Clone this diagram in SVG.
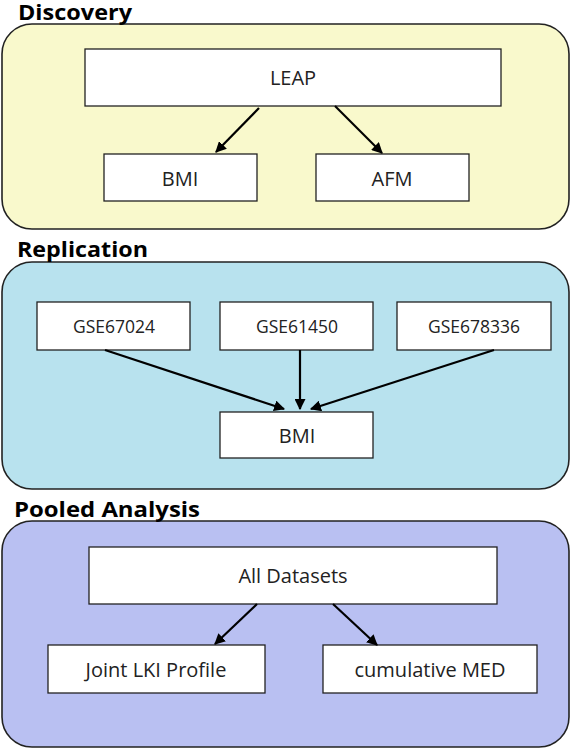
<svg xmlns="http://www.w3.org/2000/svg" width="571" height="750" viewBox="0 0 571 750">
<defs>
<style>
.panel{stroke:#222;stroke-width:1.6}
.box{fill:#fff;stroke:#222;stroke-width:1.3}
.title{font-family:"Open Sans","Noto Sans",sans-serif;font-weight:bold;font-size:22px;fill:#000}
.lbl{font-family:"Open Sans","Noto Sans",sans-serif;font-size:20px;fill:#222;text-anchor:middle;dominant-baseline:central}
.gse{font-size:17.5px}
.conn line{stroke:#000;stroke-width:2.2;marker-end:url(#ah)}
</style>
<marker id="ah" viewBox="0 0 10 10" refX="9" refY="5" markerWidth="5" markerHeight="5" orient="auto" markerUnits="strokeWidth">
<path d="M0,0 L10,5 L0,10 z" fill="#000"/>
</marker>
</defs>
<rect width="571" height="750" fill="#fff"/>

<g id="discovery">
<rect class="panel" x="2" y="24" width="567" height="205" rx="30" fill="#f9f9cc"/>
<text class="title" x="18" y="20" textLength="114" lengthAdjust="spacingAndGlyphs">Discovery</text>
</g>
<g id="replication">
<rect class="panel" x="2" y="262" width="567" height="227" rx="30" fill="#b8e2ee"/>
<text class="title" x="17" y="257" textLength="131" lengthAdjust="spacingAndGlyphs">Replication</text>
</g>
<g id="pooled">
<rect class="panel" x="2" y="521" width="567" height="226" rx="30" fill="#b9c0f2"/>
<text class="title" x="14" y="517" textLength="186" lengthAdjust="spacingAndGlyphs">Pooled Analysis</text>
</g>

<g id="leap"><rect class="box" x="85" y="49" width="416" height="57"/><text class="lbl" x="293" y="77">LEAP</text></g>
<g id="bmi1"><rect class="box" x="104" y="154" width="153" height="47"/><text class="lbl" x="180" y="178">BMI</text></g>
<g id="afm"><rect class="box" x="316" y="154" width="153" height="47"/><text class="lbl" x="392" y="178">AFM</text></g>

<g id="gse67024"><rect class="box" x="37" y="302" width="153" height="48"/><text class="lbl gse" x="114" y="326">GSE67024</text></g>
<g id="gse61450"><rect class="box" x="220" y="302" width="153" height="48"/><text class="lbl gse" x="297" y="326">GSE61450</text></g>
<g id="gse678336"><rect class="box" x="397" y="302" width="154" height="48"/><text class="lbl gse" x="474" y="326">GSE678336</text></g>
<g id="bmi2"><rect class="box" x="220" y="412" width="153" height="46"/><text class="lbl" x="297" y="435">BMI</text></g>

<g id="alldatasets"><rect class="box" x="89" y="547" width="408" height="57"/><text class="lbl" x="293" y="575">All Datasets</text></g>
<g id="jointlki"><rect class="box" x="48" y="645" width="217" height="48"/><text class="lbl" x="156" y="669">Joint LKI Profile</text></g>
<g id="cummed"><rect class="box" x="323" y="645" width="214" height="48"/><text class="lbl" x="430" y="669">cumulative MED</text></g>

<g class="conn" id="connectors">
<line x1="259" y1="108" x2="216" y2="152"/>
<line x1="335" y1="106" x2="382" y2="153"/>
<line x1="105" y1="350" x2="284" y2="409"/>
<line x1="300" y1="350" x2="300" y2="409"/>
<line x1="494" y1="350" x2="311" y2="409"/>
<line x1="257" y1="604" x2="215" y2="644"/>
<line x1="333" y1="604" x2="377" y2="645"/>
</g>
</svg>
